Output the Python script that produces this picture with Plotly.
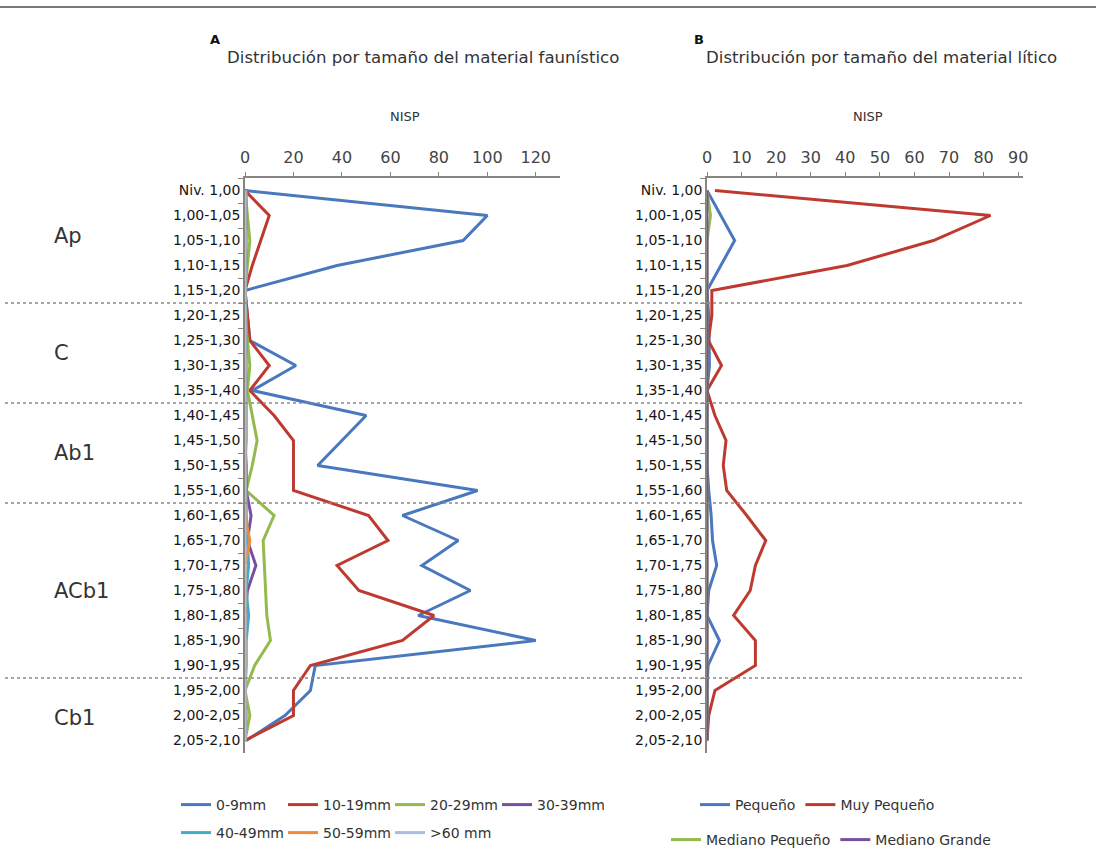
import plotly.graph_objects as go

W, H = 1096, 865

categories = ["Niv. 1,00", "1,00-1,05", "1,05-1,10", "1,10-1,15", "1,15-1,20",
              "1,20-1,25", "1,25-1,30", "1,30-1,35", "1,35-1,40", "1,40-1,45",
              "1,45-1,50", "1,50-1,55", "1,55-1,60", "1,60-1,65", "1,65-1,70",
              "1,70-1,75", "1,75-1,80", "1,80-1,85", "1,85-1,90", "1,90-1,95",
              "1,95-2,00", "2,00-2,05", "2,05-2,10"]

# A: faunal material (NISP)
fauna_0_9 = [0, 100, 90, 38, 0, 1, 2, 21, 3, 50, 40, 30, 96, 65, 88, 73, 93, 71.5, 120, 29, 27, 16.5, 0.5]
fauna_10_19 = [0, 10, 6.5, 3, 0, 1, 2, 10, 2, 12, 20, 20, 20, 51, 59, 38, 47, 78, 65, 27, 20, 20, 0]
fauna_20_29 = [0, 1, 2, 1, 0, 0, 1, 2, 1, 3, 5, 3, 0.5, 12, 7.5, 8, 8.5, 9, 10.5, 4, 0, 2, 0]
fauna_30_39 = [0, 0, 0, 0, 0, 0, 0, 0, 0, 0, 0, 0.5, 0.5, 2.5, 1, 4.5, 1, 0, 0, 0, 0, 0, 0]
fauna_40_49 = [0.5, 0.5, 0.5, 0.5, 0, 0.5, 0.5, 0.5, 0.5, 0.5, 0.5, 0, 0.5, 0.5, 1, 1.5, 0.5, 1.5, 0.5, 0.5, 0, 0.5, 0]
fauna_50_59 = [0, 0, 0, 0, 0, 0, 0, 0, 0, 0, 0, 0, 0, 0, 2, 0, 0, 0, 0, 0, 0, 0, 0]
fauna_60 = [0] * 23

# B: lithic material (NISP)
lit_pequeno = [0, 4, 8, 4, 0, 0.5, 0.5, 0.7, 0, 0, 0, 0, 0.5, 1.2, 1.6, 2.8, 0.5, 0, 3.6, 0.3, 0, 0, 0]
lit_muy_pequeno = [2.3, 82, 65.5, 40.5, 1.4, 1.4, 0.4, 4.2, 0, 2.3, 5.5, 4.7, 5.7, 11.5, 17, 14, 12.5, 7.7, 14, 14, 2.3, 0.5, 0]
lit_mediano_pequeno = [0, 1, 0, 0, 0, 0, 0, 0, 0, 0, 0, 0, 0, 0, 0, 0, 0, 0, 0, 0, 0, 0, 0]
lit_mediano_grande = [0] * 23

fauna_ticks = [0, 20, 40, 60, 80, 100, 120]
lit_ticks = [0, 10, 20, 30, 40, 50, 60, 70, 80, 90]

horizons = ["Ap", "C", "Ab1", "ACb1", "Cb1"]
horizon_center = [1.8, 6.5, 10.5, 16, 21.1]       # category index positions
horizon_bounds = [4.5, 8.5, 12.5, 19.5]           # between categories

fauna_series = [
    ("0-9mm", fauna_0_9, "#4A78BE", "legend"),
    ("10-19mm", fauna_10_19, "#BE3A30", "legend"),
    ("20-29mm", fauna_20_29, "#94BA4E", "legend"),
    ("30-39mm", fauna_30_39, "#7550A0", "legend"),
    ("40-49mm", fauna_40_49, "#45AAC8", "legend2"),
    ("50-59mm", fauna_50_59, "#F08A3A", "legend2"),
    (">60 mm", fauna_60, "#A7BEDF", "legend2"),
]
lit_series = [
    ("Pequeño", lit_pequeno, "#4A78BE", "legend3"),
    ("Muy Pequeño", lit_muy_pequeno, "#BE3A30", "legend3"),
    ("Mediano Pequeño", lit_mediano_pequeno, "#94BA4E", "legend4"),
    ("Mediano Grande", lit_mediano_grande, "#7550A0", "legend4"),
]

FONT = "DejaVu Sans"
fig = go.Figure()
for name, vals, col, lg in fauna_series:
    fig.add_trace(go.Scatter(x=vals, y=categories, mode="lines", name=name,
                             line=dict(color=col, width=3), legend=lg,
                             xaxis="x", yaxis="y"))
for name, vals, col, lg in lit_series:
    fig.add_trace(go.Scatter(x=vals, y=categories, mode="lines", name=name,
                             line=dict(color=col, width=3), legend=lg,
                             xaxis="x2", yaxis="y2"))

def px_x(p):
    return p / W

def px_y(p):
    return 1 - p / H

ydom = [px_y(753), px_y(178)]
axis_col = "#8a8480"
common_x = dict(side="top", showline=True, linecolor=axis_col, linewidth=1.5,
                ticks="outside", ticklen=4, tickcolor=axis_col, showgrid=False,
                zeroline=False, tickfont=dict(family=FONT, size=16, color="#444"),
                ticklabelstandoff=3, automargin=False)
common_y = dict(type="category", categoryorder="array", categoryarray=categories,
                range=[22.5, -0.5], showline=True, linecolor=axis_col, linewidth=1.5,
                ticks="outside", tickson="boundaries", ticklen=5, tickcolor=axis_col,
                showgrid=False, zeroline=False, automargin=False,
                tickfont=dict(family=FONT, size=14, color="#151515"),
                domain=ydom)

fig.update_layout(
    width=W, height=H,
    margin=dict(l=0, r=0, t=0, b=0, autoexpand=False),
    paper_bgcolor="white", plot_bgcolor="white",
    showlegend=True,
    xaxis=dict(domain=[px_x(245), px_x(560)], range=[0, 130], tickvals=fauna_ticks,
               anchor="y", **common_x),
    yaxis=dict(anchor="x", **common_y),
    xaxis2=dict(domain=[px_x(707), px_x(1023)], range=[0, 91.4], tickvals=lit_ticks,
                anchor="y2", **common_x),
    yaxis2=dict(anchor="x2", **common_y),
)

leg_font = dict(family=FONT, size=14, color="#333")
def legend_cfg(x, y, ew=None):
    d = dict(orientation="h", xref="paper", yref="paper",
             x=px_x(x), y=px_y(y), xanchor="left", yanchor="middle",
             font=leg_font, bgcolor="rgba(0,0,0,0)", itemwidth=30, tracegroupgap=0)
    if ew:
        d.update(entrywidth=ew, entrywidthmode="pixels")
    return d

fig.update_layout(
    legend=legend_cfg(176, 805, 62),
    legend2=legend_cfg(176, 833, 62),
    legend3=legend_cfg(695, 805),
    legend4=legend_cfg(666, 840),
)

# dotted horizon separators
for b in horizon_bounds:
    fig.add_shape(type="line", xref="paper", yref="y", x0=px_x(5), x1=px_x(1022),
                  y0=b, y1=b, line=dict(color="#8a8a8a", width=1.5, dash="dot"))
# top rule
fig.add_shape(type="line", xref="paper", yref="paper", x0=0, x1=1, y0=px_y(7), y1=px_y(7),
              line=dict(color="#7a7a7a", width=2))

for name, c in zip(horizons, horizon_center):
    fig.add_annotation(text=name, xref="paper", yref="y", x=px_x(52), y=c,
                       xanchor="left", yanchor="middle", showarrow=False,
                       font=dict(family=FONT, size=21, color="#333"))

def txt(text, x, y, size, anchor="left", bold=False, color="#333"):
    fig.add_annotation(text=f"<b>{text}</b>" if bold else text, xref="paper", yref="paper",
                       x=px_x(x), y=px_y(y), xanchor=anchor, yanchor="middle",
                       showarrow=False, font=dict(family=FONT, size=size, color=color))

txt("A", 208, 40, 13, bold=True, color="#111")
txt("Distribución por tamaño del material faunístico", 225, 58, 16.6)
txt("B", 692, 40, 13, bold=True, color="#111")
txt("Distribución por tamaño del material lítico", 704, 58, 16.6)
txt("NISP", 405, 117, 13, anchor="center")
txt("NISP", 868, 117, 13, anchor="center")

fig.write_html("out.html", config={"displayModeBar": False},
               post_script="document.body.style.margin='0';")
